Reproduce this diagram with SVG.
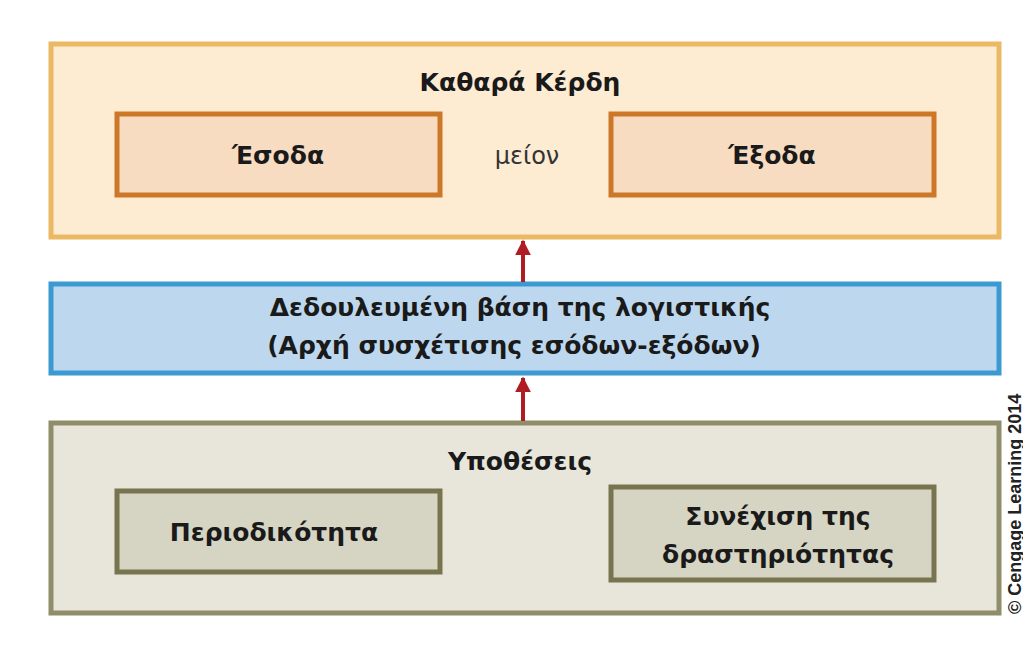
<svg xmlns="http://www.w3.org/2000/svg" width="1023" height="653" viewBox="0 0 1023 653">
<defs>
<style>
.t{font-family:"DejaVu Sans","Liberation Sans",sans-serif;font-weight:bold;fill:#1a1a1a;text-anchor:middle;font-size:25px}
.n{font-family:"DejaVu Sans","Liberation Sans",sans-serif;fill:#333;text-anchor:middle;font-size:24px}
.conn{stroke:#b01c24;stroke-width:4;fill:none}
</style>
<marker id="ah" viewBox="0 0 10 10" refX="9" refY="5" markerWidth="4" markerHeight="4" orient="auto" markerUnits="strokeWidth">
<path d="M0,0 L10,5 L0,10 z" fill="#b01c24"/>
</marker>
</defs>
<rect width="1023" height="653" fill="#fff"/>
<g id="net-profit">
<rect x="51" y="44" width="948" height="193" fill="#fdebd2" stroke="#ebb864" stroke-width="5"/>
<text class="t" x="520" y="91">Καθαρά Κέρδη</text>
<g id="income">
<rect x="117" y="114" width="323" height="81" fill="#f7dcc2" stroke="#cd7828" stroke-width="5"/>
<text class="t" x="278" y="164">Έσοδα</text>
</g>
<text class="n" x="527" y="164">μείον</text>
<g id="expenses">
<rect x="611" y="114" width="323" height="81" fill="#f7dcc2" stroke="#cd7828" stroke-width="5"/>
<text class="t" x="772" y="164">Έξοδα</text>
</g>
</g>
<g id="accrual">
<rect x="51" y="284" width="948" height="89" fill="#bdd8ee" stroke="#3c9ad2" stroke-width="5"/>
<text class="t" x="520" y="316">Δεδουλευμένη βάση της λογιστικής</text>
<text class="t" x="514" y="354">(Αρχή συσχέτισης εσόδων-εξόδων)</text>
</g>
<g id="assumptions">
<rect x="51" y="423" width="948" height="190" fill="#e8e6da" stroke="#8f8d6a" stroke-width="5"/>
<text class="t" x="520" y="470">Υποθέσεις</text>
<g id="periodicity">
<rect x="117" y="491" width="323" height="81" fill="#d6d4c2" stroke="#77744f" stroke-width="5"/>
<text class="t" x="274" y="541">Περιοδικότητα</text>
</g>
<g id="going-concern">
<rect x="611" y="487" width="323" height="93" fill="#d6d4c2" stroke="#77744f" stroke-width="5"/>
<text class="t" x="778" y="525">Συνέχιση της</text>
<text class="t" x="778" y="563">δραστηριότητας</text>
</g>
</g>
<g id="connectors">
<line class="conn" x1="523" y1="282" x2="523" y2="241" marker-end="url(#ah)"/>
<line class="conn" x1="523" y1="421" x2="523" y2="378" marker-end="url(#ah)"/>
</g>
<text font-family="Liberation Sans,sans-serif" font-weight="bold" font-size="18" fill="#222" transform="translate(1021,614) rotate(-90)">© Cengage Learning 2014</text>
</svg>
